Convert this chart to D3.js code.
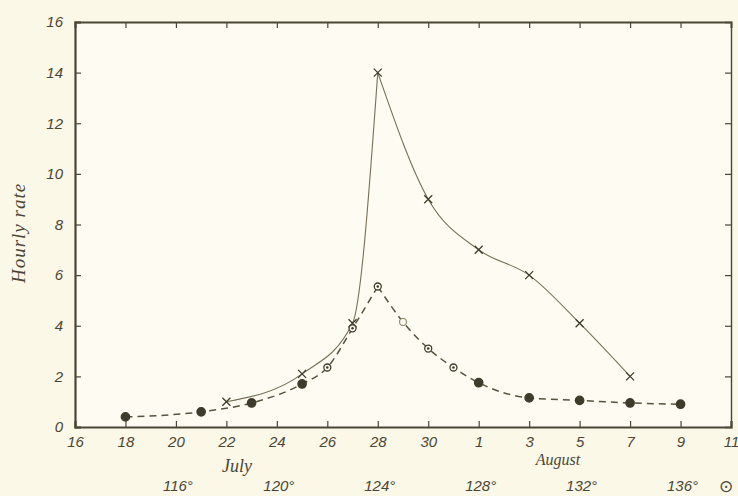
<!DOCTYPE html>
<meta charset="utf-8">
<html>
<head>
<meta charset="utf-8">
<title>Hourly rate</title>
<style>
  body { margin: 0; background: #fbf8e7; }
  svg { display: block; }
  .num { font-family: "Liberation Sans", "DejaVu Sans", sans-serif; font-style: italic; fill: #4a4636; }
  .word { font-family: "Liberation Serif", "DejaVu Serif", serif; font-style: italic; fill: #4a4636; }
</style>
</head>
<body>
<svg width="738" height="496"></svg>
<script src="https://d3js.org/d3.v7.min.js"></script>
<script>

// day of July (Aug 1 = 32)
var tickDays = [16, 18, 20, 22, 24, 26, 28, 30, 32, 34, 36, 38, 40, 42];
var tickLabels = ["16", "18", "20", "22", "24", "26", "28", "30", "1", "3", "5", "7", "9", "11"];
var yTicks = [0, 2, 4, 6, 8, 10, 12, 14, 16];
var degrees = [116, 120, 124, 128, 132, 136];

// crosses, full line
var crossDays = [22, 25, 27, 28, 30, 32, 34, 36, 38];
var crossRate = [1.0, 2.1, 4.1, 14.0, 9.0, 7.0, 6.0, 4.1, 2.0];

// dots, dashed line
var dotDays = [18, 21, 23, 25, 26, 27, 28, 29, 30, 31, 32, 34, 36, 38, 40];
var dotRate = [0.4, 0.6, 0.95, 1.7, 2.35, 3.9, 5.55, 4.15, 3.1, 2.35, 1.75, 1.15, 1.05, 0.95, 0.9];
var dotKind = ["f", "f", "f", "f", "o", "o", "o", "s", "o", "o", "f", "f", "f", "f", "f"];

var ink = "#4a4636";

var svg = d3.select("svg");
var x = d3.scaleLinear().domain([16, 42]).range([75, 731]);
var y = d3.scaleLinear().domain([0, 16]).range([427, 22]);

// paper
svg.append("rect").attr("width", 738).attr("height", 496).attr("fill", "#fbf8e7");
svg.append("rect").attr("x", 75).attr("y", 22).attr("width", 656).attr("height", 405).attr("fill", "#fefcf2");

// axes
var axBottom = svg.append("g").attr("transform", "translate(0,427)")
    .call(d3.axisBottom(x).tickValues(tickDays).tickSize(-6).tickFormat(function(d, i) { return tickLabels[i]; }).tickPadding(9));
var axTop = svg.append("g").attr("transform", "translate(0,22)")
    .call(d3.axisTop(x).tickValues(tickDays.slice(1, -1)).tickSize(-6).tickFormat(""));
var axLeft = svg.append("g").attr("transform", "translate(75,0)")
    .call(d3.axisLeft(y).tickValues(yTicks).tickSize(-6).tickPadding(12));
var axRight = svg.append("g").attr("transform", "translate(731,0)")
    .call(d3.axisRight(y).tickValues(yTicks.slice(1, -1)).tickSize(-6).tickFormat(""));

[axBottom, axTop, axLeft, axRight].forEach(function(g) {
  g.attr("font-size", null).attr("font-family", null);
  g.selectAll("path.domain").attr("stroke", ink);
  g.selectAll(".tick line").attr("stroke", ink).attr("stroke-width", 1.2);
  g.selectAll("text").attr("class", "num").attr("font-size", 15).attr("fill", ink);
});
axBottom.select("path.domain").attr("stroke-width", 2.2);
axLeft.select("path.domain").attr("stroke-width", 2.2);
axTop.select("path.domain").attr("stroke-width", 2);
axRight.select("path.domain").attr("stroke-width", 1.4);

// degree labels (sun longitude)
svg.selectAll(".deg").data(degrees).enter().append("text")
    .attr("class", "num")
    .attr("x", function(d) { return x(d - 96) + 2; })
    .attr("y", 491)
    .attr("text-anchor", "middle")
    .attr("font-size", 15)
    .text(function(d) { return d + "\u00b0"; });
svg.append("text").attr("class", "num").attr("x", 726).attr("y", 492)
    .attr("text-anchor", "middle").attr("font-size", 17).text("\u2299");

svg.append("text").attr("class", "word").attr("x", 237).attr("y", 472)
    .attr("text-anchor", "middle").attr("font-size", 18).text("July");
svg.append("text").attr("class", "word").attr("x", 558).attr("y", 465)
    .attr("text-anchor", "middle").attr("font-size", 16).text("August");
svg.append("text").attr("class", "word")
    .attr("transform", "translate(25,233) rotate(-90)")
    .attr("text-anchor", "middle").attr("font-size", 19).attr("letter-spacing", 1)
    .text("Hourly rate");

// curves, split at the maximum
function pts(days, rate) { return days.map(function(d, i) { return [x(d), y(rate[i])]; }); }
var line = d3.line().curve(d3.curveMonotoneX);

var cp = pts(crossDays, crossRate);
var cPeak = crossRate.indexOf(d3.max(crossRate));
var dp = pts(dotDays, dotRate);
var dPeak = dotRate.indexOf(d3.max(dotRate));

[cp.slice(0, cPeak + 1), cp.slice(cPeak)].forEach(function(p) {
  svg.append("path").attr("d", line(p)).attr("fill", "none")
      .attr("stroke", "#77705a").attr("stroke-width", 1.1);
});
[dp.slice(0, dPeak + 1), dp.slice(dPeak)].forEach(function(p) {
  svg.append("path").attr("d", line(p)).attr("fill", "none")
      .attr("stroke", "#57523f").attr("stroke-width", 1.5).attr("stroke-dasharray", "7,5");
});

// markers
svg.selectAll(".cross").data(cp).enter().append("path")
    .attr("d", function(p) { return "M" + (p[0] - 4) + "," + (p[1] - 4) + "L" + (p[0] + 4) + "," + (p[1] + 4) +
        "M" + (p[0] - 4) + "," + (p[1] + 4) + "L" + (p[0] + 4) + "," + (p[1] - 4); })
    .attr("stroke", "#3f3b2c").attr("stroke-width", 1.3);

svg.selectAll(".dot").data(dp).enter().append("circle")
    .attr("cx", function(p) { return p[0]; })
    .attr("cy", function(p) { return p[1]; })
    .attr("r", function(p, i) { return dotKind[i] == "f" ? 4.2 : 3.5; })
    .attr("fill", function(p, i) { return dotKind[i] == "f" ? "#3f3b2c" : "#fefcf2"; })
    .attr("stroke", function(p, i) { return dotKind[i] == "s" ? "#9a937a" : "#3f3b2c"; })
    .attr("stroke-width", 1.3);
svg.selectAll(".inner").data(dp.filter(function(p, i) { return dotKind[i] == "o"; })).enter().append("circle")
    .attr("cx", function(p) { return p[0]; })
    .attr("cy", function(p) { return p[1]; })
    .attr("r", 1.3).attr("fill", "#3f3b2c");

</script>
</body>
</html>
